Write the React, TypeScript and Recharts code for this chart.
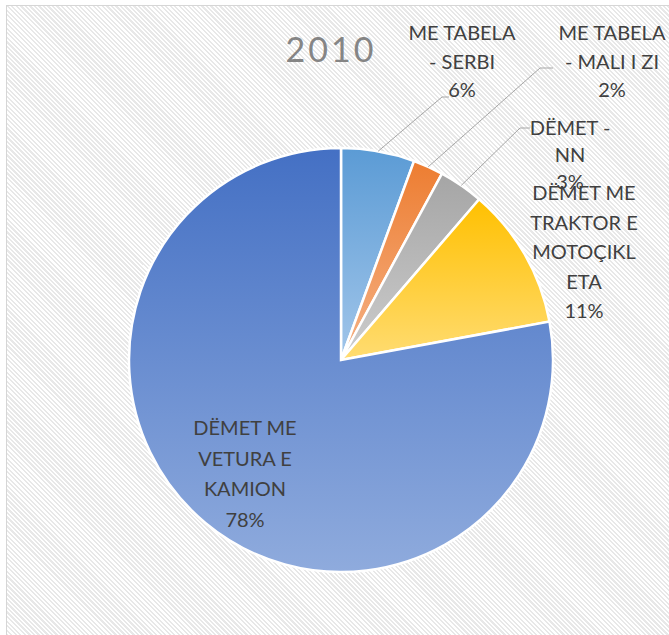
import React from "react";
import { PieChart, Pie, Cell } from "recharts";

const title = "2010";
const categories = [
  "ME TABELA - SERBI",
  "ME TABELA - MALI I ZI",
  "DËMET - NN",
  "DËMET ME TRAKTOR E MOTOÇIKLETA",
  "DËMET ME VETURA E KAMION",
];
const values = [5.6, 2.3, 3.4, 10.8, 77.9];
const wrappedLabels = [
  ["ME TABELA", "- SERBI"],
  ["ME TABELA", "-  MALI I ZI"],
  ["DËMET -", "NN"],
  ["DËMET ME", "TRAKTOR E", "MOTOÇIKL", "ETA"],
  ["DËMET ME", "VETURA E", "KAMION"],
];

const gradients = [
  ["#5b9bd5", "#a2c6ea"],
  ["#ed7d31", "#f5b286"],
  ["#a5a5a5", "#cdcdcd"],
  ["#ffc000", "#ffdc72"],
  ["#4470c4", "#8fabdd"],
];

// label block positions relative to pie centre (first baseline), plus leader line elbows
const labelPos = [
  { dx: 121, dy: -320, lh: 28.5, line: [[101, -263], [108, -263]] },
  { dx: 271, dy: -320, lh: 28.5, line: [[199, -292], [212, -292]] },
  { dx: 229, dy: -225, lh: 27, line: [[179, -232], [189, -232]] },
  { dx: 243, dy: -160, lh: 29.5, line: null },
  { dx: -96, dy: 75, lh: 30.5, line: null },
];

const data = categories.map((name, i) => ({ name, value: values[i] }));

const RAD = Math.PI / 180;

const renderLabel = (props: any) => {
  const { cx, cy, midAngle, outerRadius, percent, index } = props;
  const pos = labelPos[index];
  const lines = [...wrappedLabels[index], `${Math.round(percent * 100)}%`];
  const x = cx + pos.dx;
  const y0 = cy + pos.dy;
  let leader = null;
  if (pos.line) {
    const sx = cx + outerRadius * Math.cos(-midAngle * RAD);
    const sy = cy + outerRadius * Math.sin(-midAngle * RAD);
    const pts = [[sx, sy], ...pos.line.map(([a, b]) => [cx + a, cy + b])];
    leader = (
      <polyline
        points={pts.map((p) => p.join(",")).join(" ")}
        fill="none"
        stroke="#a6a6a6"
        strokeWidth={1}
      />
    );
  }
  return (
    <g key={`lbl-${index}`}>
      {leader}
      <text
        x={x}
        y={y0}
        textAnchor="middle"
        fill="#404040"
        fontFamily="Lato, 'Open Sans', sans-serif"
        fontSize={20}
      >
        {lines.map((t, i) => (
          <tspan key={i} x={x} y={y0 + i * pos.lh}>
            {t}
          </tspan>
        ))}
      </text>
    </g>
  );
};

export default function App() {
  return (
    <div
      style={{
        position: "absolute",
        left: 0,
        top: 0,
        width: 669,
        height: 635,
        overflow: "hidden",
        background: "#ffffff",
      }}
    >
      <div
        style={{
          position: "absolute",
          left: 6,
          top: 5,
          width: 700,
          height: 700,
          borderLeft: "1.5px solid #d6d6d6",
          borderTop: "1.5px solid #d6d6d6",
          background:
            "repeating-linear-gradient(45deg, #ffffff 0px, #ffffff 1.6px, #e8e8e8 1.6px, #e8e8e8 3.2px)",
        }}
      />
      <div
        style={{
          position: "absolute",
          left: 231,
          top: 28,
          width: 200,
          textAlign: "center",
          fontFamily: "Lato, 'Open Sans', sans-serif",
          fontSize: 34,
          color: "#858585",
          lineHeight: "42px",
          letterSpacing: 3,
        }}
      >
        {title}
      </div>
      <svg width={0} height={0} style={{ position: "absolute" }}>
        <defs>
          {gradients.map(([a, b], i) => (
            <linearGradient key={i} id={`grad${i}`} x1="0" y1="0" x2="0" y2="1">
              <stop offset="0%" stopColor={a} />
              <stop offset="100%" stopColor={b} />
            </linearGradient>
          ))}
        </defs>
      </svg>
      <div style={{ position: "absolute", left: 0, top: 0 }}>
        <PieChart
          width={669}
          height={635}
          margin={{ top: 0, right: 0, bottom: 0, left: 0 }}
        >
          <Pie
            data={data}
            dataKey="value"
            nameKey="name"
            cx={341}
            cy={360}
            outerRadius={212}
            startAngle={90}
            endAngle={-270}
            stroke="#ffffff"
            strokeWidth={2.5}
            label={renderLabel}
            labelLine={false}
            isAnimationActive={false}
          >
            {data.map((_, i) => (
              <Cell key={i} fill={`url(#grad${i})`} />
            ))}
          </Pie>
        </PieChart>
      </div>
    </div>
  );
}
